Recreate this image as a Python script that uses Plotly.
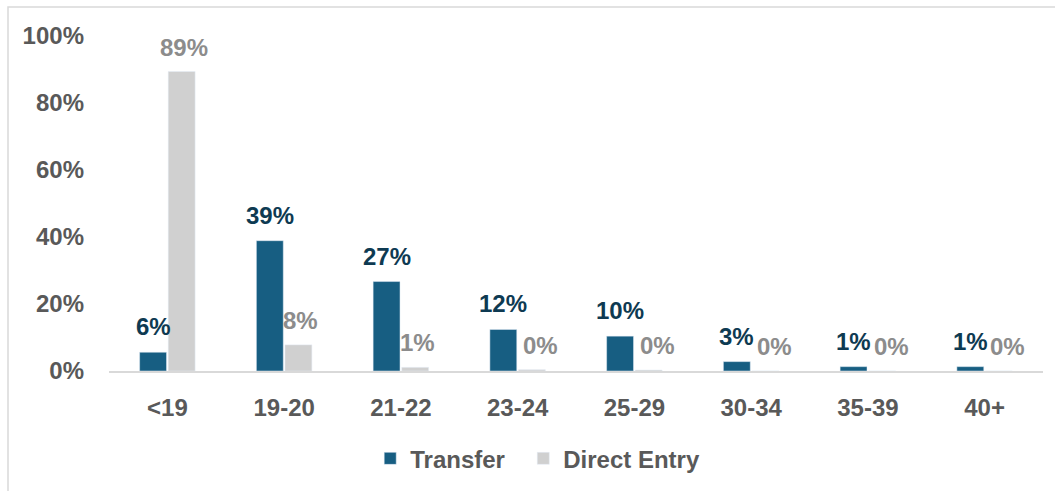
import plotly.graph_objects as go

categories = ["<19", "19-20", "21-22", "23-24", "25-29", "30-34", "35-39", "40+"]
transfer = [5.6, 38.9, 26.7, 12.4, 10.4, 2.8, 1.3, 1.3]
direct_entry = [89.4, 7.8, 1.1, 0.4, 0.3, 0.0, 0.0, 0.0]
y_ticks = [0, 20, 40, 60, 80, 100]

W, H = 1055, 491
ML, MR, MT, MB = 109, 12, 36, 120
PW, PH = W - ML - MR, H - MT - MB

C_T = "#175E82"
C_D = "#D0D0D0"
FONT = "Liberation Sans"
FS = 24

fig = go.Figure()
fig.add_trace(go.Bar(name="Transfer\u00a0\u00a0", x=categories, y=transfer, marker_color=C_T))
fig.add_trace(go.Bar(name="Direct Entry", x=categories, y=direct_entry, marker_color=C_D))

cat_w = PW / len(categories)
bargap = 0.51
slot = cat_w * (1 - bargap) / 2

anns = []
for i, c in enumerate(categories):
    v = transfer[i]
    anns.append(dict(x=c, y=v, xref="x", yref="y", text=f"{round(v):.0f}%",
                     showarrow=False, xshift=-slot / 2, yshift=10, yanchor="bottom",
                     font=dict(family=FONT, size=FS, color="#0E3A52", weight="bold")))
    d = direct_entry[i]
    anns.append(dict(x=c, y=d, xref="x", yref="y", text=f"{round(d):.0f}%",
                     showarrow=False, xshift=slot / 2 + (9 if d < 1 else 2), yshift=9, yanchor="bottom",
                     font=dict(family=FONT, size=FS, color="#8C8C8C", weight="bold")))

fig.update_layout(
    width=W, height=H,
    margin=dict(l=ML, r=MR, t=MT, b=MB, autoexpand=False),
    paper_bgcolor="white", plot_bgcolor="white",
    barmode="group", bargap=bargap, bargroupgap=0.06,
    font=dict(family=FONT, size=FS, color="#595959"),
    showlegend=True,
    legend=dict(orientation="h", x=0.459, xanchor="center", y=-0.262, yanchor="middle",
                font=dict(family=FONT, size=FS, color="#595959", weight="bold"),
                itemwidth=30, traceorder="normal"),
    annotations=anns,
    shapes=[dict(type="rect", xref="paper", yref="paper",
                 x0=(8 - ML) / PW, x1=(W + 20 - ML) / PW,
                 y0=-(H + 20 - MT - PH) / PH, y1=(H - MB - 7) / PH,
                 line=dict(color="#D9D9D9", width=1.5), fillcolor="rgba(0,0,0,0)", layer="below")],
)
fig.update_xaxes(showline=True, linecolor="#D9D9D9", linewidth=2, showgrid=False,
                 ticks="", ticklabelstandoff=14,
                 tickfont=dict(family=FONT, size=FS, color="#595959", weight="bold"))
fig.update_yaxes(range=[0, 100], tickmode="array", tickvals=y_ticks,
                 ticktext=[f"{t}%" for t in y_ticks], showgrid=False,
                 showline=False, zeroline=False, ticks="", ticklabelstandoff=24,
                 tickfont=dict(family=FONT, size=FS, color="#595959", weight="bold"))

fig.write_html("out.html", config={"displayModeBar": False},
               post_script="document.body.style.margin='0';")
